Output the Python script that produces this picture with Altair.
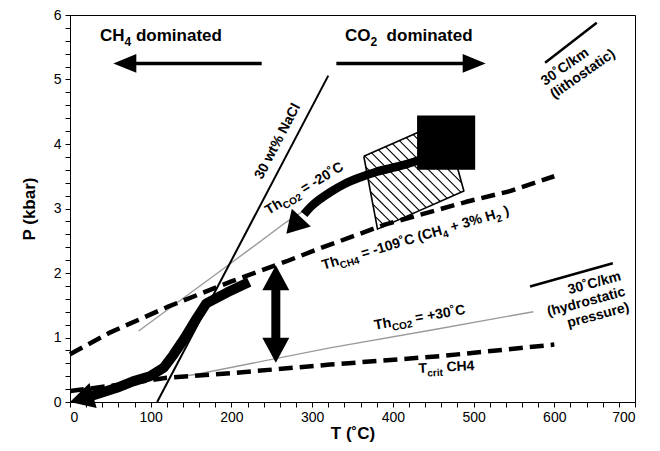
import altair as alt
import pandas as pd

# ---------------- layout constants ----------------
W, H = 565, 387
T_MAX, P_MAX = 700, 6
PX_T = W / T_MAX
PX_P = H / P_MAX
FONT = "Liberation Sans"

# ---------------- data ----------------
nacl_T = [108, 320]
nacl_P = [0.0, 5.06]

thco2_m20_T = [85, 198, 268, 320, 367]
thco2_m20_P = [1.10, 2.14, 2.79, 3.21, 3.58]

thco2_p30_T = [140, 157, 322, 450, 574]
thco2_p30_P = [0.40, 0.43, 0.84, 1.12, 1.40]

thch4_T = [0, 50, 120, 200, 270, 305, 390, 490, 545, 600]
thch4_P = [0.74, 1.08, 1.47, 1.87, 2.19, 2.36, 2.75, 3.10, 3.27, 3.50]

tcrit_T = [0, 50, 120, 202, 322, 458, 600]
tcrit_P = [0.17, 0.25, 0.375, 0.45, 0.58, 0.71, 0.89]

path_low_T = [20, 33, 58, 78, 99, 116, 128, 142, 157, 169, 195, 222]
path_low_P = [0.07, 0.12, 0.22, 0.32, 0.40, 0.53, 0.73, 0.99, 1.30, 1.53, 1.70, 1.86]

path_up_T = [440, 409, 380, 359, 340, 322, 308, 297, 290]
path_up_P = [3.78, 3.66, 3.57, 3.48, 3.38, 3.25, 3.13, 3.01, 2.91]

# hatched field (quadrilateral)
poly_T = [364, 464, 488, 381]
poly_P = [3.81, 4.36, 3.27, 2.68]

# black square
sq_T = [430, 502]
sq_P = [3.60, 4.44]

# double arrow
dbl_T = 255
dbl_P = [0.61, 2.12]

# regime arrows
ch4_arrow_T = [237.5, 53.7]
co2_arrow_T = [330, 515]
regime_P = 5.25

# geotherm segments
litho_T = [588.6, 652.6]
litho_P = [5.26, 5.88]
hydro_T = [570, 672.5]
hydro_P = [1.79, 2.15]

x_ticks = list(range(0, 701, 20))
y_ticks = [round(i * 0.2, 1) for i in range(31)]

# ---------------- encodings ----------------
X = alt.X("T:Q", scale=alt.Scale(domain=[0, T_MAX], nice=False, zero=False),
          axis=alt.Axis(values=x_ticks, title="T (˚C)", format="d",
                        labelExpr="datum.value % 100 == 0 ? datum.label : ''"))
Y = alt.Y("P:Q", scale=alt.Scale(domain=[0, P_MAX], nice=False, zero=False),
          axis=alt.Axis(values=y_ticks, title="P (kbar)", format=".0f",
                        labelExpr="abs(datum.value - round(datum.value)) < 0.001 ? datum.label : ''"))


def df(T, P, **extra):
    d = {"T": T, "P": P}
    d.update(extra)
    return pd.DataFrame(d)


def line(T, P, color="black", width=1.0, dash=None, cap="butt", interp=None):
    kw = dict(color=color, strokeWidth=width, strokeCap=cap, strokeJoin="round")
    if dash:
        kw["strokeDash"] = dash
    if interp:
        kw["interpolate"] = interp
    d = df(T, P, o=list(range(len(T))))
    return alt.Chart(d).mark_line(**kw).encode(x=X, y=Y, order="o:Q")


def head(T, P, angle, L, Wd):
    r = Wd / (2.0 * L)
    shape = f"M0,0L-1,{-r:.3f}L-1,{r:.3f}Z"
    return alt.Chart(df([T], [P])).mark_point(
        shape=shape, filled=True, size=4 * L * L, angle=angle % 360,
        color="black", opacity=1, strokeWidth=0).encode(x=X, y=Y)


AW = {' ': 278, '%': 889, '(': 333, ')': 333, '+': 584, '-': 333, '/': 278, '=': 584,
      '˚': 333, 'C': 722, 'H': 722, 'N': 722, 'O': 778, 'T': 611,
      'a': 556, 'c': 556, 'd': 611, 'e': 556, 'h': 611, 'i': 278, 'k': 556, 'l': 278,
      'm': 889, 'n': 611, 'o': 611, 'p': 611, 'r': 389, 's': 556, 't': 333, 'u': 611,
      'w': 778, 'y': 556}


def tw(s, size):
    return sum(AW.get(ch, 556) for ch in s) * size / 1000.0


def label(T, P, angle, pieces, align="left"):
    out = []
    total = sum(tw(t, s) for t, s, _ in pieces)
    x = -total if align == "right" else 0.0
    for t, s, dy in pieces:
        lead = len(t) - len(t.lstrip(" "))
        shown = t.strip(" ")
        out.append(alt.Chart(df([T], [P], txt=[shown])).mark_text(
            align="left", baseline="alphabetic", angle=angle % 360,
            dx=x + tw(" " * lead, s), dy=dy,
            fontSize=s, fontWeight="bold", font=FONT, color="black").encode(
            x=X, y=Y, text="txt:N"))
        x += tw(t, s)
    return out


# ---------------- hatch lines ----------------
def to_px(T, P):
    return T * PX_T, H - P * PX_P


verts = [to_px(t, p) for t, p in zip(poly_T, poly_P)]
cs = [v - u for u, v in verts]
hatch_T, hatch_P, hatch_id = [], [], []
c = min(cs) + 5
k = 0
while c < max(cs):
    pts = []
    for i in range(len(verts)):
        (u1, v1), (u2, v2) = verts[i], verts[(i + 1) % len(verts)]
        f1, f2 = v1 - u1 - c, v2 - u2 - c
        if f1 == f2 or f1 * f2 > 0:
            continue
        t = f1 / (f1 - f2)
        pts.append((u1 + t * (u2 - u1), v1 + t * (v2 - v1)))
    if len(pts) >= 2:
        for u, v in pts[:2]:
            hatch_T.append(u / PX_T)
            hatch_P.append((H - v) / PX_P)
            hatch_id.append(k)
        k += 1
    c += 10

hatch = alt.Chart(df(hatch_T, hatch_P, g=hatch_id)).mark_line(
    color="black", strokeWidth=1.1).encode(x=X, y=Y, detail="g:N")

poly_outline = line(poly_T + poly_T[:1], poly_P + poly_P[:1], width=1.6)

square = alt.Chart(pd.DataFrame({"T": [sq_T[0]], "T2": [sq_T[1]],
                                 "P": [sq_P[0]], "P2": [sq_P[1]]})).mark_rect(
    color="black").encode(x=X, x2="T2:Q", y=Y, y2="P2:Q")

DASH = [14, 7]
layers = [
    line(thco2_m20_T, thco2_m20_P, color="#9a9a9a", width=1.4),
    line(thco2_p30_T, thco2_p30_P, color="#9a9a9a", width=1.4),
    line(nacl_T, nacl_P, width=2.0),
    line(thch4_T, thch4_P, width=4.5, dash=DASH),
    line(tcrit_T, tcrit_P, width=4.5, dash=DASH),
    hatch,
    poly_outline,
    line(path_low_T, path_low_P, width=10, cap="butt"),
    line(path_up_T, path_up_P, width=8.5, cap="butt", interp="monotone"),
    head(0, 0.0, 164, 24, 26),
    head(268, 2.61, 133, 22, 26),
    square,
    line([dbl_T, dbl_T], [dbl_P[0] + 0.3, dbl_P[1] - 0.3], width=9),
    head(dbl_T, dbl_P[1], 270, 25, 27),
    head(dbl_T, dbl_P[0], 90, 25, 27),
    line([ch4_arrow_T[0], ch4_arrow_T[1] + 25], [regime_P, regime_P], width=3.5),
    head(ch4_arrow_T[1], regime_P, 180, 23, 19),
    line([co2_arrow_T[0], co2_arrow_T[1] - 25], [regime_P, regime_P], width=3.5),
    head(co2_arrow_T[1], regime_P, 0, 23, 19),
    line(litho_T, litho_P, width=2.5),
    line(hydro_T, hydro_P, width=2.5),
]

layers += label(37.2, 5.595, 0, [("CH", 17, 0), ("4", 12, 5), (" dominated", 17, 0)])
layers += label(340.7, 5.60, 0, [("CO", 17, 0), ("2", 12, 5), ("  dominated", 17, 0)])
layers += label(238, 3.44, -62.5, [("30 wt% NaCl", 14, 0)])
layers += label(246, 2.90, -31, [("Th", 14, 0), ("CO2", 10, 4), (" = -20˚C", 14, 0)])
layers += label(314, 2.05, -16.5, [("Th", 14, 0), ("CH4", 10, 4), (" = -109˚C (CH", 14, 0),
                                   ("4", 10, 4), (" + 3% H", 14, 0), ("2", 10, 4), (" )", 14, 0)])
layers += label(378, 1.12, -10, [("Th", 14, 0), ("CO2", 10, 4), (" = +30˚C", 14, 0)])
layers += label(432, 0.45, -3, [("T", 14, 0), ("crit", 10, 4), (" CH4", 14, 0)])
layers += label(588.5, 4.90, -35, [("30˚C/km", 14, 0)])
layers += label(588.5, 4.90, -35, [("(lithostatic)", 14, 16)])
layers += label(688.8, 1.65, -15, [("30˚C/km", 14, -16)], align="right")
layers += label(688.8, 1.65, -15, [("(hydrostatic", 14, 0)], align="right")
layers += label(688.8, 1.65, -15, [("pressure)", 14, 16)], align="right")

chart = alt.layer(*layers).properties(
    width=W, height=H,
    autosize=alt.AutoSizeParams(type="none"),
    padding={"left": 62, "top": 7, "right": 15, "bottom": 40},
).configure_view(stroke="black", strokeWidth=1).configure_axis(
    grid=False, domainColor="black", domainWidth=1, tickColor="black", tickSize=5,
    labelFont=FONT, labelFontSize=14, labelColor="black", labelPadding=3,
    titleFont=FONT, titleFontSize=17, titleFontWeight="bold", titleColor="black",
).configure_axisX(titlePadding=1).configure_axisY(titlePadding=15, labelPadding=4)

chart.save("out.html", embed_options={"renderer": "svg", "actions": False})
